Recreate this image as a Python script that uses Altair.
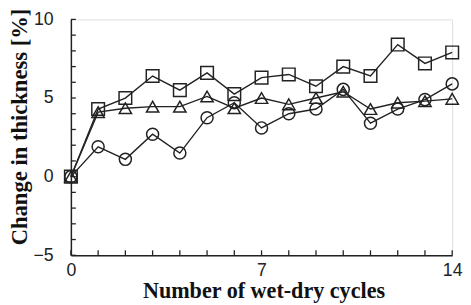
import altair as alt
import pandas as pd

cycles = list(range(15))
square_vals = [0, 4.3, 5.0, 6.4, 5.5, 6.6, 5.25, 6.3, 6.5, 5.75, 7.0, 6.4, 8.4, 7.2, 7.9]
triangle_vals = [0, 4.1, 4.35, 4.45, 4.45, 5.1, 4.35, 5.0, 4.6, 5.0, 5.4, 4.3, 4.7, 4.8, 4.95]
circle_vals = [0, 1.9, 1.1, 2.7, 1.5, 3.75, 4.7, 3.1, 4.0, 4.3, 5.55, 3.4, 4.3, 4.9, 5.9]
series_names = ["square", "triangle", "circle"]
x_ticks = list(range(0, 15))
y_ticks = list(range(-5, 11))
x_labels = [0, 7, 14]
y_labels = [-5, 0, 5, 10]

rows = []
for name, vals in zip(series_names, [square_vals, triangle_vals, circle_vals]):
    for c, v in zip(cycles, vals):
        rows.append({"cycle": c, "value": v, "series": name})
df = pd.DataFrame(rows)

W, H = 388, 240
xs = alt.Scale(domain=[0, 14], nice=False, zero=False)
ys = alt.Scale(domain=[-5, 10], nice=False, zero=False)

x_axis = alt.Axis(
    values=x_labels, ticks=False, grid=False, domainColor="#222", domainWidth=1.5,
    labelFont="Liberation Sans", labelFontSize=18, labelColor="#222",
    labelPadding=7, labelFlush=False, labelOverlap=False, labelBound=False,
    title="Number of wet-dry cycles", titleFont="Liberation Serif",
    titleFontWeight="bold", titleFontSize=22.5, titleColor="#111",
    titleBaseline="alphabetic", titleX=196, titleY=43,
)
y_axis = alt.Axis(
    values=y_labels, ticks=False, grid=False, domainColor="#222", domainWidth=1.5,
    labelFont="Liberation Sans", labelFontSize=18, labelColor="#222",
    labelPadding=18, labelFlush=False, labelOverlap=False, labelBound=False,
    title="Change in thickness [%]", titleFont="Liberation Serif",
    titleFontWeight="bold", titleFontSize=23, titleColor="#111",
    titleBaseline="middle", titleX=-52, titleY=109, titleAngle=-90,
)

base = alt.Chart(df)
lines = base.mark_line(color="#222", strokeWidth=1.4).encode(
    x=alt.X("cycle:Q", scale=xs, axis=x_axis),
    y=alt.Y("value:Q", scale=ys, axis=y_axis),
    detail="series:N",
)
points = base.mark_point(filled=False, color="#222", strokeWidth=1.5, opacity=1).encode(
    x=alt.X("cycle:Q", scale=xs),
    y=alt.Y("value:Q", scale=ys),
    shape=alt.Shape("series:N", scale=alt.Scale(domain=series_names, range=["square", "triangle-up", "circle"]), legend=None),
    size=alt.Size("series:N", scale=alt.Scale(domain=series_names, range=[165, 150, 135]), legend=None),
)

xt = alt.Chart(pd.DataFrame({"cycle": x_ticks})).mark_rule(color="#222", strokeWidth=1.3).encode(
    x=alt.X("cycle:Q", scale=xs), y=alt.value(H), y2=alt.value(H - 5)
)
yt = alt.Chart(pd.DataFrame({"value": y_ticks})).mark_rule(color="#222", strokeWidth=1.3).encode(
    y=alt.Y("value:Q", scale=ys), x=alt.value(0), x2=alt.value(5)
)

chart = alt.layer(lines, points, xt, yt).properties(
    width=W, height=H,
    autosize=alt.AutoSizeParams(type="none"),
    padding={"left": 64, "top": 9, "right": 11, "bottom": 48},
).configure_view(stroke=None).configure(background="white").configure_axis(
    labelOverlap=False, labelBound=False, labelFlush=False
)

chart.save("out.html", embed_options={"renderer": "svg", "actions": False})
